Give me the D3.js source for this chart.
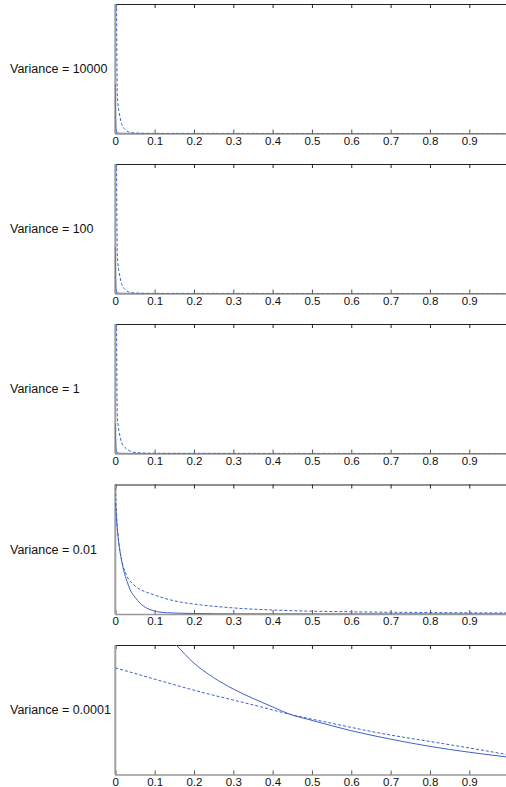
<!DOCTYPE html>
<html><head><meta charset="utf-8">
<script src="https://cdn.jsdelivr.net/npm/d3@7"></script>
<style>body{margin:0;background:#fff}svg{display:block}</style>
</head><body>
<svg id="c" width="506" height="787"></svg>
<script>
const labels = ["Variance = 10000","Variance = 100","Variance = 1","Variance = 0.01","Variance = 0.0001"];
const xTicks = [0,0.1,0.2,0.3,0.4,0.5,0.6,0.7,0.8,0.9,1];
const xTickLabels = ["0","0.1","0.2","0.3","0.4","0.5","0.6","0.7","0.8","0.9","1"];

// values normalised to each panel's vertical extent (0 = bottom, 1 = top)
const solid1 = [[0,0.38],[0.001,0.1],[0.002,0.03],[0.004,0.008],[0.01,0.002],[0.05,0],[1,0]];
const dashed1 = [[0.003,1.2],[0.004,0.6],[0.005,0.32],[0.007,0.22],[0.01,0.16],[0.016,0.077],[0.025,0.03],[0.033,0.013],[0.05,0.004],[0.1,0.001],[1,0]];
const solid2 = [[0,0.36],[0.001,0.1],[0.002,0.03],[0.004,0.008],[0.01,0.002],[0.05,0],[1,0]];
const dashed2 = [[0.003,1.2],[0.004,0.6],[0.005,0.32],[0.007,0.22],[0.01,0.16],[0.016,0.077],[0.025,0.03],[0.033,0.013],[0.05,0.004],[0.1,0.001],[1,0]];
const solid3 = [[0,0.23],[0.001,0.09],[0.002,0.03],[0.004,0.01],[0.01,0.002],[0.05,0],[1,0]];
const dashed3 = [[0.003,1.2],[0.004,0.6],[0.005,0.3],[0.008,0.2],[0.012,0.13],[0.016,0.085],[0.025,0.045],[0.033,0.026],[0.05,0.008],[0.1,0.002],[1,0]];
const solid4 = [[0,0.864],[0.004,0.7],[0.0085,0.556],[0.015,0.43],[0.021,0.34],[0.03,0.25],[0.038,0.185],[0.05,0.13],[0.0635,0.082],[0.08,0.045],[0.097,0.025],[0.13,0.01],[0.2,0.004],[0.3,0.001],[1,0]];
const dashed4 = [[0,1.05],[0.002,0.86],[0.004,0.72],[0.008,0.58],[0.0127,0.47],[0.02,0.37],[0.03,0.29],[0.046,0.228],[0.06,0.195],[0.08,0.167],[0.1,0.146],[0.131,0.116],[0.17,0.09],[0.216,0.071],[0.3,0.047],[0.427,0.028],[0.6,0.017],[0.8,0.011],[1,0.008]];
const solid5 = [[0.155,1.0],[0.2,0.86],[0.25,0.748],[0.3,0.66],[0.35,0.588],[0.4,0.522],[0.444,0.465],[0.5,0.418],[0.6,0.338],[0.7,0.273],[0.8,0.217],[0.9,0.172],[1.0,0.134]];
const dashed5 = [[0,0.824],[0.089,0.746],[0.216,0.638],[0.343,0.543],[0.444,0.465],[0.554,0.393],[0.681,0.315],[0.808,0.251],[0.9,0.205],[1.0,0.152]];

const solids = [solid1, solid2, solid3, solid4, solid5];
const dashes = [dashed1, dashed2, dashed3, dashed4, dashed5];

const svg = d3.select("#c");
const blue = "#3f62c8";
const x = d3.scaleLinear().domain([0,1]).range([115.3, 508.6]);
const tops = [4, 164, 324, 484.5, 645];
const H = 129.5;

labels.forEach((lab, i) => {
  const top = tops[i];
  const y = d3.scaleLinear().domain([0,1]).range([top + H, top]);
  const g = svg.append("g");
  const cid = "clip" + i;
  svg.append("clipPath").attr("id", cid).append("rect")
    .attr("x", x(0)).attr("y", top).attr("width", x(1) - x(0)).attr("height", H);

  // top border with inward ticks
  const axTop = d3.axisTop(x).tickValues(xTicks).tickSize(-4).tickFormat("");
  g.append("g").attr("transform", `translate(0,${top})`).call(axTop)
    .call(s => { s.select(".domain").attr("stroke", "#222").attr("stroke-width", 1.2);
                 s.selectAll(".tick line").attr("stroke", "#222"); });
  // bottom axis with inward ticks + labels
  const axBot = d3.axisBottom(x).tickValues(xTicks).tickSize(-4).tickPadding(3)
    .tickFormat((d, k) => xTickLabels[k]);
  g.append("g").attr("transform", `translate(0,${top + H})`).call(axBot)
    .call(s => { s.select(".domain").attr("stroke", "#999").attr("stroke-width", 1.5);
                 s.selectAll(".tick line").attr("stroke", "#555");
                 s.selectAll("text").attr("font-family", "'Liberation Sans', Arial, sans-serif")
                   .attr("font-size", 11.5).attr("fill", "#111"); });
  // left axis (gray)
  g.append("line").attr("x1", x(0)).attr("x2", x(0)).attr("y1", top).attr("y2", top + H)
    .attr("stroke", "#a0a0a0").attr("stroke-width", 2);

  const line = d3.line().x(d => x(d[0])).y(d => y(d[1])).curve(d3.curveMonotoneX);
  g.append("path").datum(dashes[i]).attr("d", line).attr("clip-path", `url(#${cid})`)
    .attr("fill", "none").attr("stroke", blue).attr("stroke-width", 1)
    .attr("stroke-dasharray", "3,2");
  g.append("path").datum(solids[i]).attr("d", line).attr("clip-path", `url(#${cid})`)
    .attr("fill", "none").attr("stroke", blue).attr("stroke-width", 1);

  svg.append("text").attr("x", 10).attr("y", top + H / 2 + 4.5)
    .attr("font-family", "'Liberation Sans', Arial, sans-serif").attr("font-size", 12.5)
    .attr("fill", "#111").text(lab);
});
</script>
</body></html>
